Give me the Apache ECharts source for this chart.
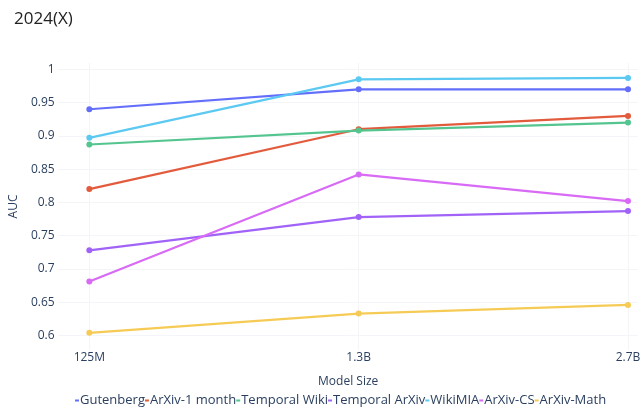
<!DOCTYPE html>
<html>
<head>
<meta charset="utf-8">
<script src="https://cdn.jsdelivr.net/npm/echarts@6/dist/echarts.min.js"></script>
<style>
  html, body { margin: 0; padding: 0; background: #fff; }
  #chart { width: 643px; height: 412px; }
</style>
</head>
<body>
<div id="chart"></div>
<script>
// Model sizes on the x axis
const modelSizes = ['125M', '1.3B', '2.7B'];

// AUC per dataset, one value per model size
const gutenberg      = [0.940, 0.970, 0.970];
const arxiv1Month    = [0.820, 0.910, 0.930];
const temporalWiki   = [0.887, 0.908, 0.920];
const temporalArxiv  = [0.728, 0.778, 0.787];
const wikiMIA        = [0.897, 0.985, 0.987];
const arxivCS        = [0.681, 0.842, 0.802];
const arxivMath      = [0.604, 0.633, 0.646];

// y tick labels
const yTicks = [0.6, 0.65, 0.7, 0.75, 0.8, 0.85, 0.9, 0.95, 1];

const seriesDefs = [
  { name: 'Gutenberg',       data: gutenberg,     color: '#636efa' },
  { name: 'ArXiv-1 month',   data: arxiv1Month,   color: '#e35b3d' },
  { name: 'Temporal Wiki',   data: temporalWiki,  color: '#55c590' },
  { name: 'Temporal ArXiv',  data: temporalArxiv, color: '#a163f7' },
  { name: 'WikiMIA',         data: wikiMIA,       color: '#5bc9f1' },
  { name: 'ArXiv-CS',        data: arxivCS,       color: '#d86af5' },
  { name: 'ArXiv-Math',      data: arxivMath,     color: '#f6cb55' }
];

const font = '"Open Sans", "Noto Sans", sans-serif';
const labelColor = '#2a3f5f';
const gridColor = '#f3f5f9';

const chart = echarts.init(document.getElementById('chart'), null, { renderer: 'canvas' });

chart.setOption({
  animation: false,
  backgroundColor: '#fff',
  title: {
    text: '2024(X)',
    left: 9,
    top: 6,
    textStyle: { fontFamily: font, fontSize: 17, fontWeight: 'normal', color: '#222' }
  },
  legend: {
    data: seriesDefs.map(s => s.name),
    left: 75,
    top: 394,
    icon: 'rect',
    itemWidth: 4,
    itemHeight: 2,
    itemGap: 0,
    padding: 0,
    textStyle: { fontFamily: font, fontSize: 13, color: labelColor, padding: [0, 0, 0, -4] }
  },
  grid: { left: 40, right: 0, top: 63, bottom: 62 },
  xAxis: {
    type: 'value',
    min: -0.114,
    max: 2.036,
    name: 'Model Size',
    nameLocation: 'middle',
    nameGap: 26,
    nameTextStyle: { fontFamily: font, fontSize: 12, color: labelColor },
    axisLine: { show: false },
    axisTick: { show: false, customValues: [0, 1, 2] },
    axisLabel: {
      customValues: [0, 1, 2],
      formatter: v => modelSizes[Math.round(v)],
      margin: 2,
      fontFamily: font, fontSize: 12, color: labelColor
    },
    splitLine: { show: true, lineStyle: { color: gridColor, width: 1 } }
  },
  yAxis: {
    type: 'value',
    min: 0.5782,
    max: 1.0095,
    name: 'AUC',
    nameLocation: 'middle',
    nameGap: 24,
    nameRotate: 90,
    nameTextStyle: { fontFamily: font, fontSize: 12, color: labelColor },
    axisLine: { show: false },
    axisTick: { show: false, customValues: yTicks },
    axisLabel: {
      customValues: yTicks,
      formatter: v => String(Math.round(v * 100) / 100),
      margin: 4,
      fontFamily: font, fontSize: 12, color: labelColor
    },
    splitLine: { show: true, lineStyle: { color: gridColor, width: 1 } }
  },
  series: seriesDefs.map(s => ({
    name: s.name,
    type: 'line',
    data: s.data.map((v, i) => [i, v]),
    symbol: 'circle',
    symbolSize: 6,
    showSymbol: true,
    color: s.color,
    lineStyle: { width: 2.2, color: s.color },
    itemStyle: { color: s.color },
    emphasis: { disabled: true }
  }))
});
</script>
</body>
</html>
